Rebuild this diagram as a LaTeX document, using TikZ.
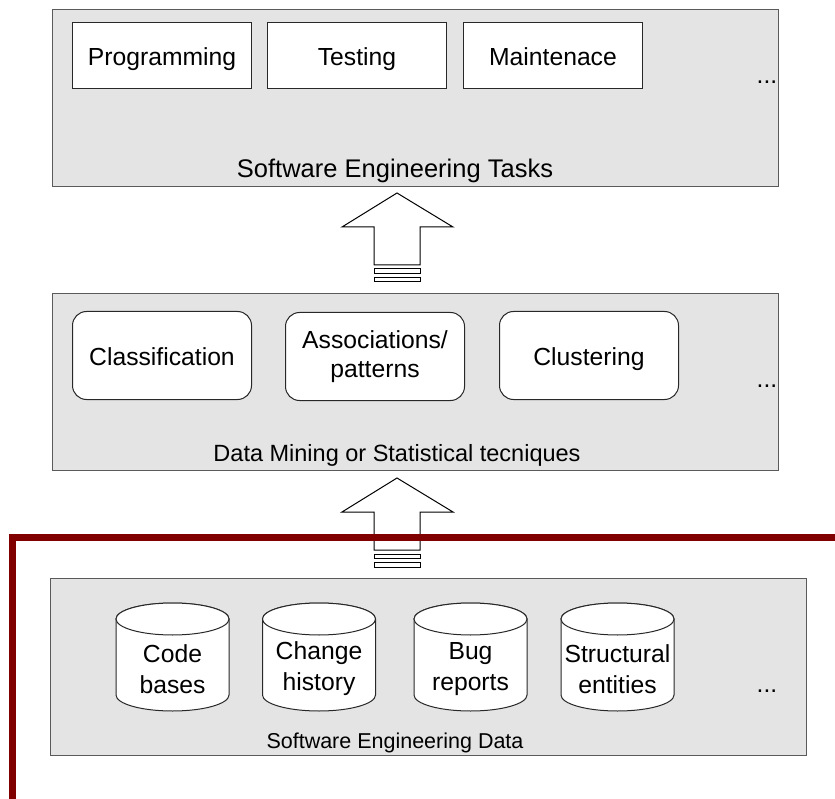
\documentclass[tikz,border=0pt]{standalone}
\usepackage{fontspec}
\setmainfont{Liberation Sans}
\definecolor{panelfill}{RGB}{228,228,228}
\definecolor{panelline}{RGB}{90,90,90}
\definecolor{boxline}{RGB}{40,40,40}
\definecolor{framered}{RGB}{128,0,0}
\begin{document}
\begin{tikzpicture}[x=1pt,y=-1pt,
  every node/.style={font=\fontsize{24.7}{29.5}\selectfont},
  panel/.style={draw=panelline, fill=panelfill, line width=1.4pt, anchor=north west, inner sep=0pt},
  oneline/.style={text height=20pt, text depth=0pt},
  taskbox/.style={draw=boxline, fill=white, line width=1pt, minimum width=179pt, minimum height=66pt, anchor=north west, inner sep=0pt},
  methodbox/.style={draw=boxline, fill=white, line width=1pt, rounded corners=14pt, minimum width=179pt, minimum height=88pt, anchor=north west, inner sep=0pt, align=center},
  cyltext/.style={align=center, inner sep=0pt, font=\fontsize{24.7}{31}\selectfont},
  arrowpart/.style={draw=black, fill=white, line width=1pt},
  cylpart/.style={draw=boxline, fill=white, line width=1pt},
  pics/blockarrow/.style={code={
    \draw[arrowpart] (0,0) -- (-55,34) -- (-23,34) -- (-23,72) -- (23,72) -- (23,34) -- (56,34) -- cycle;
    \draw[arrowpart] (-23,76) rectangle (23,80.5);
    \draw[arrowpart] (-23,84.5) rectangle (23,89);
  }},
  pics/database/.style={code={
    % body: sides, front of the lower rim, back of the upper rim
    \draw[cylpart] (-56.5,16) -- (-56.5,92) arc[start angle=180, end angle=0, x radius=56.5, y radius=16] -- (56.5,16) arc[start angle=0, end angle=-180, x radius=56.5, y radius=16] -- cycle;
    \draw[cylpart] (0,16) ellipse[x radius=56.5, y radius=16];
  }}
]
\useasboundingbox (0,0) rectangle (835,799);

% Software engineering tasks
\node[panel, minimum width=726pt, minimum height=177pt] (tasks) at (52,9) {};
\node[taskbox, oneline] (prog) at (72,22) {Programming};
\node[taskbox, oneline] (test) at (267,22) {Testing};
\node[taskbox, oneline] (maint) at (463,22) {Maintenace};
\node (taskmore) at (767,82) {...};
\node[font=\fontsize{25.5}{30}\selectfont] (tasklabel) at (395,171) {Software Engineering Tasks};

\pic at (397,193) {blockarrow};

% Data mining / statistical techniques
\node[panel, minimum width=726pt, minimum height=177pt] (mining) at (52,293) {};
\node[methodbox, oneline] (classif) at (72,311) {Classification};
\node[methodbox] (assoc) at (285,312) {Associations/\\patterns};
\node[methodbox, oneline] (cluster) at (499,311) {Clustering};
\node (miningmore) at (767,386) {...};
\node[font=\fontsize{23.5}{28}\selectfont] (mininglabel) at (397,455) {Data Mining or Statistical tecniques};

\pic at (397,478) {blockarrow};

% Software engineering data
\node[panel, minimum width=756pt, minimum height=177pt] (data) at (50,578) {};
\foreach \cx/\nm/\txt in {172.5/code/{Code\\bases}, 319/change/{Change\\history}, 470.5/bug/{Bug\\reports}, 617.5/struct/{Structural\\entities}}{
  \pic at (\cx,603) {database};
  \node[cyltext] (\nm) at (\cx,669) {\txt};
}
\node (datamore) at (767,691) {...};
\node[font=\fontsize{21.5}{26}\selectfont] (datalabel) at (395,743) {Software Engineering Data};

% highlight frame around the data layer
\draw[draw=framered, line width=7pt] (12,537) rectangle (860,803);
\end{tikzpicture}
\end{document}
